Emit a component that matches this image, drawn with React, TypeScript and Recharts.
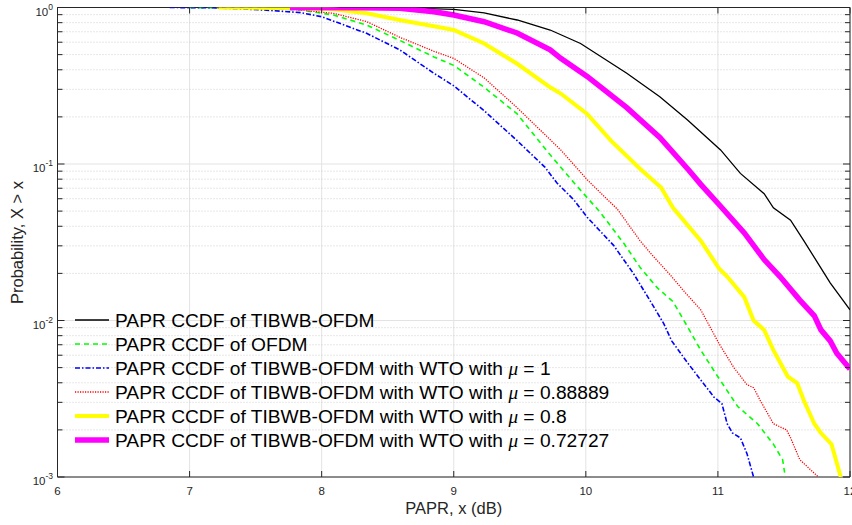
import { LineChart, Line, XAxis, YAxis, CartesianGrid, ReferenceArea } from 'recharts';

// axis ticks
const X_TICKS = [6, 7, 8, 9, 10, 11, 12];
const Y_DECADES = [0.001, 0.01, 0.1, 1];
const Y_EXPONENTS = ['-3', '-2', '-1', '0'];
const Y_MINORS = [
    0.002, 0.003, 0.004, 0.005, 0.006, 0.007, 0.008, 0.009,
    0.02, 0.03, 0.04, 0.05, 0.06, 0.07, 0.08, 0.09,
    0.2, 0.3, 0.4, 0.5, 0.6, 0.7, 0.8, 0.9,
];

// PAPR CCDF of TIBWB-OFDM
const PAPR_TIBWB = [8.0, 8.6, 9.0, 9.23, 9.48, 9.73, 9.96, 10.31, 10.56, 10.77, 11.02, 11.17, 11.35, 11.42, 11.55, 11.65, 11.85, 12.0];
const CCDF_TIBWB = [1, 0.995, 0.973, 0.923, 0.832, 0.718, 0.589, 0.38, 0.269, 0.191, 0.123, 0.0871, 0.0646, 0.0525, 0.0437, 0.0324, 0.0174, 0.0117];

// PAPR CCDF of OFDM
const PAPR_OFDM = [7.0, 7.5, 7.84, 8.09, 8.34, 8.59, 8.85, 9.0, 9.23, 9.48, 9.72, 9.91, 10.11, 10.29, 10.41, 10.54, 10.66, 10.77, 10.87, 11.0, 11.15, 11.3, 11.42, 11.49, 11.51];
const CCDF_OFDM = [1, 0.991, 0.964, 0.895, 0.773, 0.617, 0.483, 0.427, 0.309, 0.209, 0.117, 0.0759, 0.049, 0.0309, 0.0219, 0.0162, 0.0132, 0.00912, 0.00646, 0.00437, 0.00282, 0.00219, 0.00162, 0.00129, 0.001];

// WTO, mu = 1
const PAPR_MU_1 = [6.85, 7.2, 7.56, 7.84, 8.0, 8.34, 8.59, 8.85, 9.0, 9.23, 9.48, 9.69, 9.78, 9.91, 10.01, 10.21, 10.36, 10.47, 10.59, 10.65, 10.77, 10.87, 10.97, 11.03, 11.07, 11.11, 11.17, 11.22, 11.27];
const CCDF_MU_1 = [1, 0.995, 0.964, 0.927, 0.873, 0.684, 0.537, 0.38, 0.316, 0.219, 0.141, 0.0955, 0.0759, 0.0589, 0.0457, 0.0302, 0.02, 0.0141, 0.00955, 0.00741, 0.00537, 0.00417, 0.00324, 0.00295, 0.00219, 0.00191, 0.00178, 0.00141, 0.001];

// WTO, mu = 0.88889
const PAPR_MU_089 = [7.2, 7.6, 7.84, 8.09, 8.34, 8.59, 8.85, 9.0, 9.23, 9.48, 9.81, 10.01, 10.24, 10.41, 10.49, 10.64, 10.74, 10.87, 11.01, 11.12, 11.22, 11.27, 11.32, 11.42, 11.52, 11.55, 11.62, 11.76];
const CCDF_MU_089 = [1, 0.991, 0.964, 0.918, 0.813, 0.646, 0.525, 0.473, 0.355, 0.229, 0.123, 0.0794, 0.0513, 0.0324, 0.0269, 0.0195, 0.0155, 0.0117, 0.00708, 0.00501, 0.00389, 0.00372, 0.00309, 0.00219, 0.002, 0.00178, 0.00129, 0.001];

// WTO, mu = 0.8
const PAPR_MU_08 = [7.22, 7.8, 8.09, 8.34, 8.59, 8.85, 9.0, 9.23, 9.48, 9.73, 9.81, 10.01, 10.19, 10.41, 10.57, 10.66, 10.87, 11.01, 11.07, 11.2, 11.27, 11.35, 11.42, 11.53, 11.6, 11.65, 11.73, 11.78, 11.86, 11.93];
const CCDF_MU_08 = [1, 0.993, 0.973, 0.918, 0.832, 0.759, 0.718, 0.589, 0.437, 0.309, 0.282, 0.209, 0.141, 0.0933, 0.0708, 0.0525, 0.0324, 0.0214, 0.0191, 0.0141, 0.01, 0.00871, 0.00646, 0.00437, 0.00398, 0.00309, 0.00219, 0.00191, 0.00162, 0.001];

// WTO, mu = 0.72727
const PAPR_MU_073 = [7.76, 8.3, 8.59, 8.85, 9.0, 9.23, 9.48, 9.73, 9.81, 10.01, 10.31, 10.56, 10.78, 10.87, 11.02, 11.2, 11.35, 11.47, 11.62, 11.73, 11.78, 11.85, 11.9, 12.0];
const CCDF_MU_073 = [1, 0.998, 0.989, 0.94, 0.895, 0.811, 0.687, 0.537, 0.473, 0.363, 0.229, 0.148, 0.0912, 0.0741, 0.0537, 0.0363, 0.0245, 0.0191, 0.0135, 0.0107, 0.00871, 0.00741, 0.00617, 0.0049];

const toPoints = (xs: number[], ps: number[]) => xs.map((x, i) => ({ x, p: ps[i] }));

const SERIES = [
    { key: 'tibwb', name: 'PAPR CCDF of TIBWB-OFDM', mu: '', data: toPoints(PAPR_TIBWB, CCDF_TIBWB), color: '#000000', width: 1.3, dash: undefined },
    { key: 'ofdm', name: 'PAPR CCDF of OFDM', mu: '', data: toPoints(PAPR_OFDM, CCDF_OFDM), color: '#00ff00', width: 1.6, dash: '5 4' },
    { key: 'mu1', name: 'PAPR CCDF of TIBWB-OFDM with WTO with ', mu: '1', data: toPoints(PAPR_MU_1, CCDF_MU_1), color: '#0000ff', width: 1.6, dash: '5 2 1.5 2' },
    { key: 'mu089', name: 'PAPR CCDF of TIBWB-OFDM with WTO with ', mu: '0.88889', data: toPoints(PAPR_MU_089, CCDF_MU_089), color: '#ff0000', width: 1.3, dash: '1.2 1.3' },
    { key: 'mu08', name: 'PAPR CCDF of TIBWB-OFDM with WTO with ', mu: '0.8', data: toPoints(PAPR_MU_08, CCDF_MU_08), color: '#ffff00', width: 4, dash: undefined },
    { key: 'mu073', name: 'PAPR CCDF of TIBWB-OFDM with WTO with ', mu: '0.72727', data: toPoints(PAPR_MU_073, CCDF_MU_073), color: '#ff00ff', width: 5.5, dash: undefined },
];

const FONT = "'Liberation Sans', Arial, Helvetica, sans-serif";
const AXIS_COLOR = '#262626';
const PLOT = { left: 57.5, right: 850, top: 7.5, bottom: 477 };

const XTick = ({ x, payload }: any) => (
    <g>
        <line x1={x} x2={x} y1={PLOT.bottom} y2={PLOT.bottom - 6} stroke={AXIS_COLOR} />
        <line x1={x} x2={x} y1={PLOT.top} y2={PLOT.top + 6} stroke={AXIS_COLOR} />
        <text x={x} y={495} textAnchor="middle" fontSize={11.5} fontFamily={FONT} fill={AXIS_COLOR}>
            {payload.value}
        </text>
    </g>
);

const YTick = ({ y, payload }: any) => {
    const idx = Y_DECADES.indexOf(payload.value);
    const len = idx >= 0 ? 7 : 5;
    return (
        <g>
            <line x1={PLOT.left} x2={PLOT.left + len} y1={y} y2={y} stroke={AXIS_COLOR} />
            <line x1={PLOT.right} x2={PLOT.right - len} y1={y} y2={y} stroke={AXIS_COLOR} />
            {idx >= 0 && (
                <text x={53} y={y + 8} textAnchor="end" fontSize={11.5} fontFamily={FONT} fill={AXIS_COLOR}>
                    10
                    <tspan dy={-6} fontSize={8.5}>{Y_EXPONENTS[idx]}</tspan>
                </text>
            )}
        </g>
    );
};

export default function App() {
    return (
        <div style={{ position: 'absolute', left: 0, top: 0, width: 852, height: 525, background: '#fff' }}>
            <LineChart width={852} height={525} margin={{ top: 7.5, right: 2, bottom: 0, left: 0 }}>
                <CartesianGrid stroke="#e3e3e3" strokeWidth={1} horizontalValues={Y_DECADES} />
                <CartesianGrid stroke="#c4c4c4" strokeWidth={0.8} strokeDasharray="1 2" vertical={false} horizontalValues={Y_MINORS} />
                <XAxis
                    type="number"
                    dataKey="x"
                    domain={[6, 12]}
                    ticks={X_TICKS}
                    interval={0}
                    height={48}
                    axisLine={false}
                    tickLine={false}
                    tick={<XTick />}
                    allowDataOverflow
                    label={() => (
                        <text x={(PLOT.left + PLOT.right) / 2} y={514} textAnchor="middle" fontSize={16.5} fontFamily={FONT} fill={AXIS_COLOR}>
                            PAPR, x (dB)
                        </text>
                    )}
                />
                <YAxis
                    type="number"
                    scale="log"
                    domain={[0.001, 1]}
                    ticks={[...Y_DECADES, ...Y_MINORS]}
                    interval={0}
                    width={57.5}
                    axisLine={false}
                    tickLine={false}
                    tick={<YTick />}
                    allowDataOverflow
                    label={() => (
                        <text transform="translate(23,242.5) rotate(-90)" textAnchor="middle" fontSize={16.5} fontFamily={FONT} fill={AXIS_COLOR}>
                            Probability, X &gt; x
                        </text>
                    )}
                />
                <ReferenceArea x1={6} x2={12} y1={0.001} y2={1} fill="none" stroke={AXIS_COLOR} strokeWidth={1} />
                {SERIES.map((s) => (
                    <Line
                        key={s.key}
                        data={s.data}
                        dataKey="p"
                        type="linear"
                        stroke={s.color}
                        strokeWidth={s.width}
                        strokeDasharray={s.dash}
                        dot={false}
                        activeDot={false}
                        isAnimationActive={false}
                    />
                ))}
            </LineChart>
            <svg width={852} height={525} style={{ position: 'absolute', left: 0, top: 0, pointerEvents: 'none' }}>
                {SERIES.map((s, i) => {
                    const cy = 320 + i * 24;
                    return (
                        <g key={s.key}>
                            <line x1={75} x2={109} y1={cy} y2={cy} stroke={s.color} strokeWidth={s.width} strokeDasharray={s.dash} />
                            <text x={115} y={cy + 6.8} fontSize={19.2} fontFamily={FONT} fill="#000">
                                {s.name}
                                {s.mu && (
                                    <>
                                        <tspan fontStyle="italic" fontFamily="'Liberation Serif', serif">μ</tspan>
                                        {' = ' + s.mu}
                                    </>
                                )}
                            </text>
                        </g>
                    );
                })}
            </svg>
        </div>
    );
}
